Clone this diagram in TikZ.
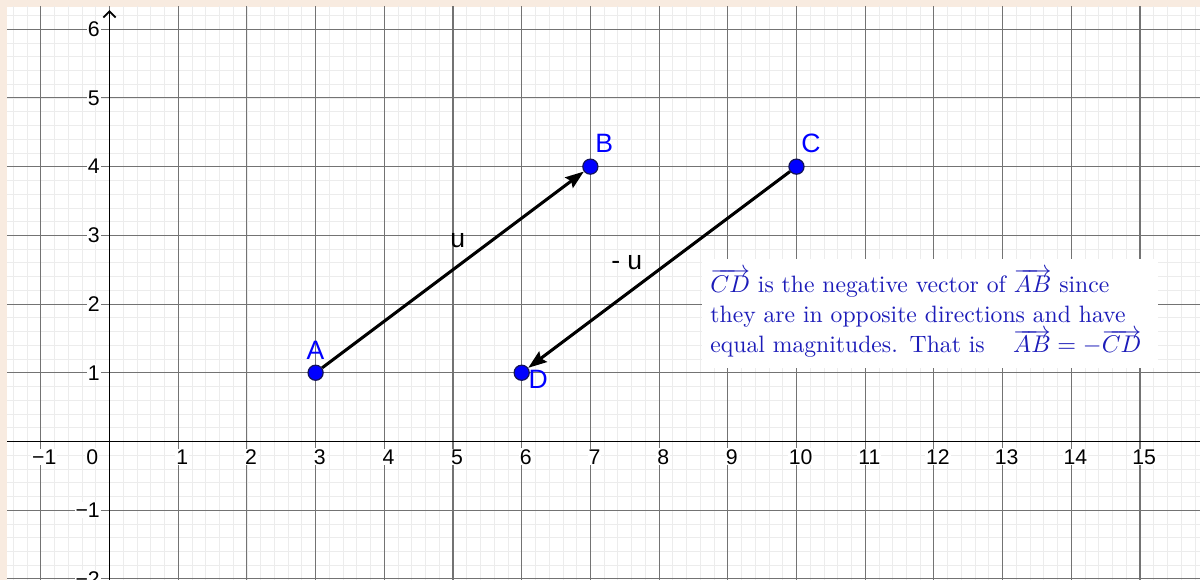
\documentclass[tikz,border=0pt]{standalone}
\usepackage{fontspec}
\newfontfamily\labfont{Liberation Sans}
\usetikzlibrary{arrows.meta}
\definecolor{peach}{RGB}{248,235,224}
\definecolor{ptblue}{RGB}{0,0,255}
\definecolor{ptedge}{RGB}{20,20,90}
\definecolor{txtblue}{RGB}{28,28,185}
\definecolor{majgray}{RGB}{115,115,115}
\definecolor{mingray}{RGB}{236,236,236}
\begin{document}
\begin{tikzpicture}[
  pt/.style={circle, fill=ptblue, draw=ptedge, line width=0.5pt, minimum size=0.22cm, inner sep=0pt},
  ptlabel/.style={text=ptblue, font=\labfont\fontsize{11}{12}\selectfont, inner sep=0pt},
  vec/.style={line width=1.25pt, -{Stealth[length=0.27cm,width=0.19cm,inset=0.04cm]}},
  ticklab/.style={font=\labfont\fontsize{8.8}{10}\selectfont, fill=white, inner sep=0.4pt},
  veclab/.style={font=\labfont\fontsize{11}{12}\selectfont, inner sep=0pt},
  notebox/.style={fill=white, text=txtblue, align=left, inner xsep=0.12cm, inner ysep=0pt,
    font=\fontsize{9.8}{12.6}\selectfont},
]
\useasboundingbox (-1.594,-2.016) rectangle (15.874,6.426);
\fill[peach] (-1.594,-2.016) rectangle (15.874,6.426);
\fill[white] (-1.492,-2.016) rectangle (15.874,6.324);
\begin{scope}
  \clip (-1.492,-2.016) rectangle (15.874,6.324);
  \draw[mingray, line width=0.3pt, step=0.2] (-1.6,-2.2) grid (16,6.4);
  \draw[majgray, line width=0.45pt, step=1] (-1.6,-2.2) grid (16,6.4);
  \draw[black, line width=0.75pt] (-1.6,0) -- (16,0);
  \draw[black, line width=0.75pt, -{Straight Barb[length=0.09cm,width=0.18cm]}] (0,-2.2) -- (0,6.28);
  % x tick labels
  \foreach \k in {1,...,15} {
    \node[ticklab] (xl\k) at (\k+0.06,-0.226) {\k};
  }
  \node[ticklab] (xlm1) at (-0.95,-0.226) {−1};
  \node[ticklab] (xl0) at (-0.25,-0.226) {0};
  % y tick labels
  \foreach \k in {1,...,6} {
    \node[ticklab, anchor=east] (yl\k) at (-0.12,\k) {\k};
  }
  \node[ticklab, anchor=east] (ylm1) at (-0.12,-1) {−1};
  \node[ticklab, anchor=east] (ylm2) at (-0.12,-2) {−2};
\end{scope}
% points
\node[pt] (A) at (3,1) {};
\node[pt] (B) at (7,4) {};
\node[pt] (C) at (10,4) {};
\node[pt] (D) at (6,1) {};
\draw[vec] (A) -- (B);
\draw[vec] (C) -- (D);
\node[ptlabel] (lA) at (3.0,1.33) {A};
\node[ptlabel] (lB) at (7.2,4.345) {B};
\node[ptlabel] (lC) at (10.21,4.345) {C};
\node[ptlabel] (lD) at (6.24,0.91) {D};
\node[veclab] (lu) at (5.07,2.93) {u};
\node[veclab] (lmu) at (7.53,2.6) {- u};
% note
\node[notebox, anchor=north west, minimum width=6.52cm, minimum height=1.6cm, text width=6.4cm] (note) at (8.62,2.67)
{$\overrightarrow{CD}$ is the negative vector of $\overrightarrow{AB}$ since\\
they are in opposite directions and have\\
equal magnitudes. That is\hspace{1.2em}$\overrightarrow{AB}=-\overrightarrow{CD}$};
\end{tikzpicture}
\end{document}
